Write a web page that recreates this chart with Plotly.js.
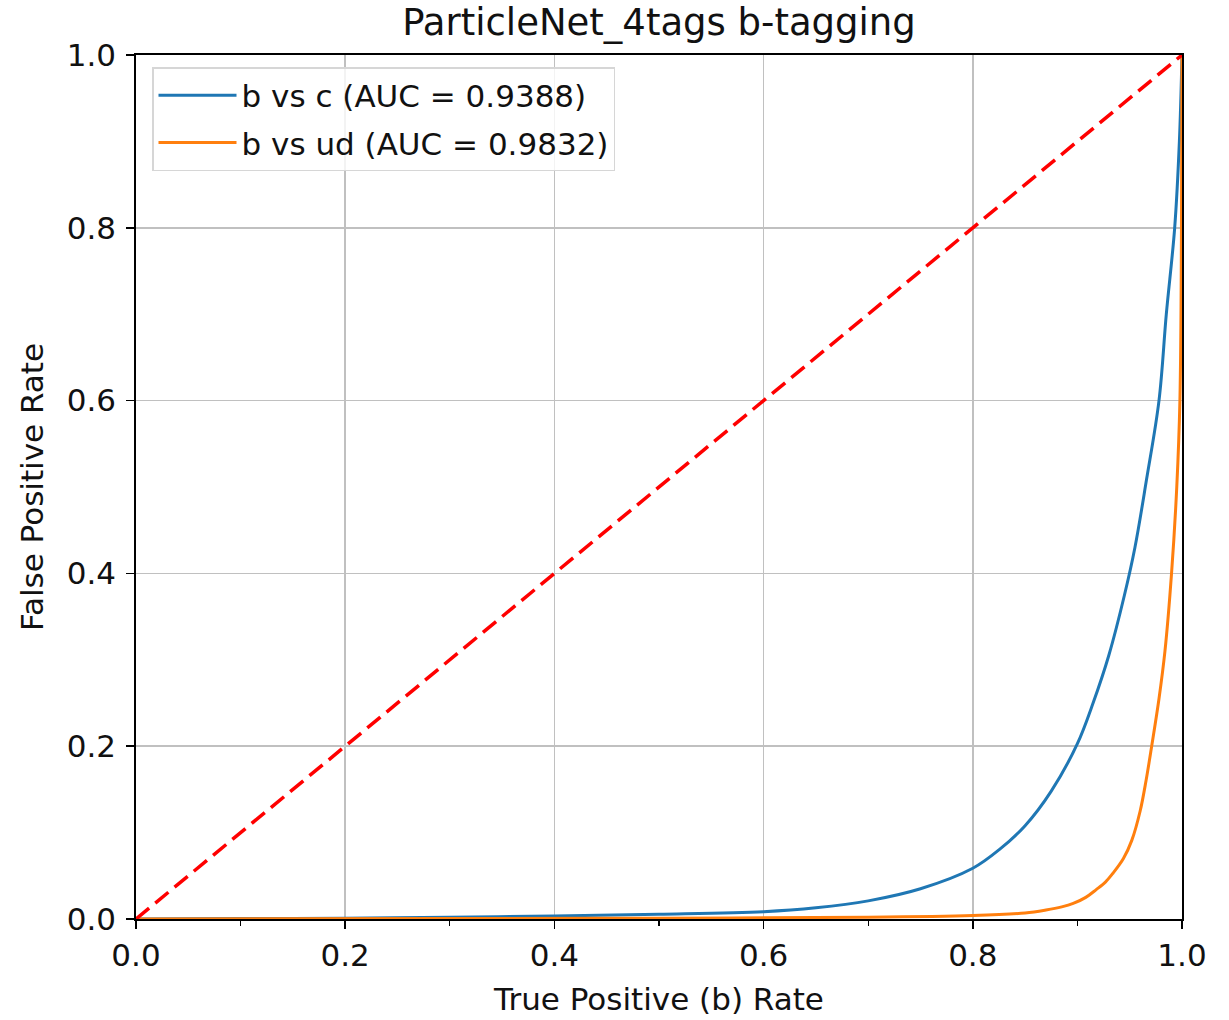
<!DOCTYPE html>
<html>
<head>
<meta charset="utf-8">
<script src="https://cdn.plot.ly/plotly-3.0.1.min.js"></script>
<style>html,body{margin:0;padding:0;background:#fff;}#chart{width:1229px;height:1020px;}</style>
</head>
<body>
<div id="chart"></div>
<script>
// b vs c ROC (x = true positive (b) rate, y = false positive rate)
const bcTPR = [0, 0.1, 0.2, 0.3, 0.4, 0.5, 0.6, 0.65, 0.7, 0.75, 0.8, 0.825, 0.85, 0.875, 0.9, 0.915, 0.93, 0.945, 0.955, 0.966, 0.978, 0.985, 0.993, 0.9975, 1.0];
const bcFPR = [0, 0.0005, 0.001, 0.002, 0.0035, 0.0055, 0.0085, 0.013, 0.021, 0.035, 0.0587, 0.08, 0.108, 0.148, 0.203, 0.25, 0.305, 0.375, 0.43, 0.508, 0.6, 0.7, 0.8, 0.9, 1.0];
// b vs ud ROC
const budTPR = [0, 0.3, 0.5, 0.7, 0.8, 0.85, 0.87, 0.885, 0.896, 0.908, 0.918, 0.927, 0.934, 0.944, 0.952, 0.96, 0.9656, 0.971, 0.978, 0.9837, 0.990, 0.995, 0.998, 0.9995, 1.0];
const budFPR = [0, 0.0005, 0.001, 0.002, 0.004, 0.007, 0.0104, 0.014, 0.018, 0.025, 0.034, 0.043, 0.053, 0.07, 0.091, 0.125, 0.16, 0.2, 0.255, 0.31, 0.4, 0.5, 0.6, 0.8, 1.0];
// random-guess diagonal
const diagX = [0, 1];
const diagY = [0, 1];
const seriesNames = ["b vs c (AUC = 0.9388)", "b vs ud (AUC = 0.9832)"];
const tickVals = [0, 0.2, 0.4, 0.6, 0.8, 1.0];
const tickText = ["0.0", "0.2", "0.4", "0.6", "0.8", "1.0"];

const FONT = "DejaVu Sans, sans-serif";
const TXT = "#111";

const traces = [
  {x: bcTPR, y: bcFPR, type: "scatter", mode: "lines", name: seriesNames[0],
   line: {color: "#1f77b4", width: 3, shape: "spline", smoothing: 1}, legendgroup: "a"},
  {x: budTPR, y: budFPR, type: "scatter", mode: "lines", name: seriesNames[1],
   line: {color: "#ff7f0e", width: 3, shape: "spline", smoothing: 1}, legendgroup: "b"},
  {x: diagX, y: diagY, type: "scatter", mode: "lines", showlegend: false,
   line: {color: "#ff0000", width: 3.5, dash: "17px,8px"}}
];

const axisCommon = {
  range: [0, 1],
  tickvals: tickVals,
  ticktext: tickText,
  showline: true, linecolor: "#000", linewidth: 1.8, mirror: true,
  ticks: "outside", ticklen: 8, tickwidth: 1.5, tickcolor: "#000",
  showgrid: true, gridcolor: "#c0c0c0", gridwidth: 1.6,
  zeroline: false,
  tickfont: {family: FONT, size: 31, color: TXT},
  fixedrange: true,
  automargin: false
};

const layout = {
  width: 1229, height: 1020,
  paper_bgcolor: "#fff", plot_bgcolor: "#fff",
  margin: {l: 136, r: 47, t: 55, b: 101},
  title: {text: "ParticleNet_4tags b-tagging", font: {family: FONT, size: 37, color: TXT},
          x: 0.5, xref: "paper", y: 1 - 22 / 1020, yref: "container", yanchor: "middle"},
  xaxis: Object.assign({}, axisCommon, {
    title: {text: "True Positive (b) Rate", font: {family: FONT, size: 31, color: TXT}, standoff: 16},
    minor: {dtick: 0.1, tick0: 0, ticks: "outside", ticklen: 5, tickwidth: 1.3, tickcolor: "#000", showgrid: false}
  }),
  yaxis: Object.assign({}, axisCommon, {
    ticklabelstandoff: 4,
    title: {text: "False Positive Rate", font: {family: FONT, size: 31, color: TXT}, standoff: 14}
  }),
  legend: {
    x: 0.0153, y: 1 - 12 / 864, xanchor: "left", yanchor: "top",
    bgcolor: "rgba(255,255,255,0.8)", bordercolor: "#d6d6d6", borderwidth: 1.5,
    font: {family: FONT, size: 31, color: TXT},
    traceorder: "grouped", tracegroupgap: 4, itemwidth: 78
  },
  showlegend: true
};

Plotly.newPlot("chart", traces, layout, {displayModeBar: false, staticPlot: true});
</script>
</body>
</html>
